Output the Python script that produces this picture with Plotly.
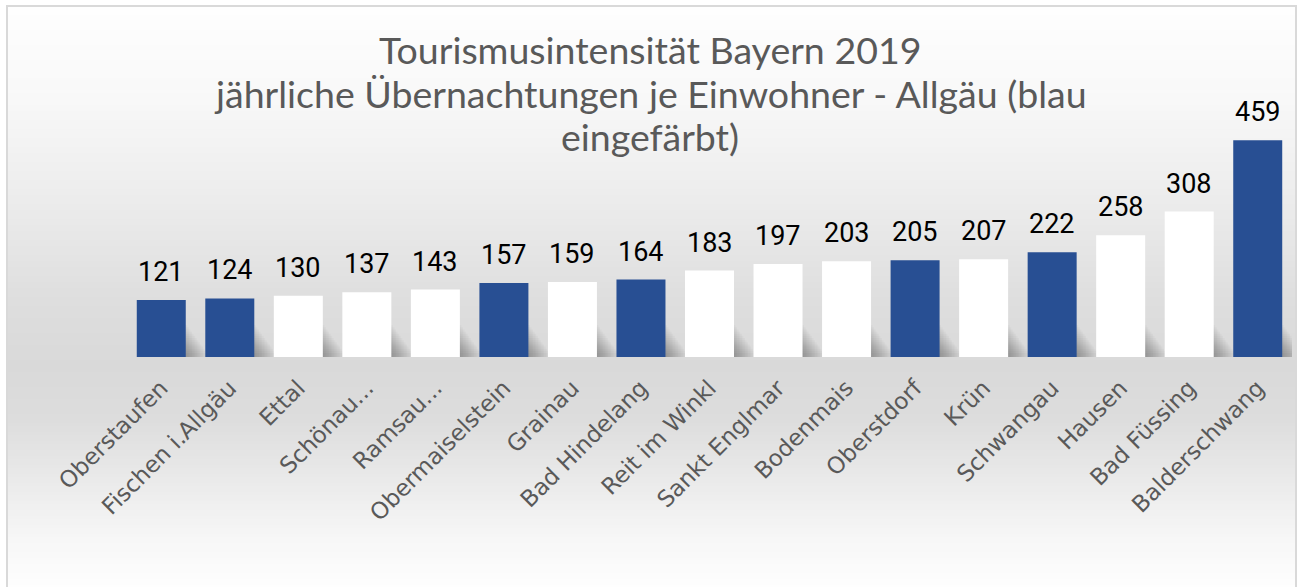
import plotly.graph_objects as go

# ---------------- data ----------------
categories = ["Oberstaufen", "Fischen i.Allgäu", "Ettal", "Schönau...", "Ramsau...",
              "Obermaiselstein", "Grainau", "Bad Hindelang", "Reit im Winkl",
              "Sankt Englmar", "Bodenmais", "Oberstdorf", "Krün", "Schwangau",
              "Hausen", "Bad Füssing", "Balderschwang"]
values = [121, 124, 130, 137, 143, 157, 159, 164, 183, 197, 203, 205, 207, 222, 258, 308, 459]
allgaeu = [True, True, False, False, False, True, False, True, False,
           False, False, True, False, True, False, False, True]

title_lines = ["Tourismusintensität Bayern 2019",
               "jährliche Übernachtungen je Einwohner - Allgäu (blau",
               "eingefärbt)"]

# ---------------- style ----------------
W, H = 1300, 587
ML, MR, MT, MB = 127, 8, 121, 230
YMAX = 500
BARGAP = 0.285
BLUE = "#284F93"
WHITE = "#FFFFFF"
TXT = "#595959"

pw = W - ML - MR
ph = H - MT - MB
cat_px = pw / len(categories)


def px_x(x):
    return (x - ML) / pw


def px_y(y):
    return (H - MB - y) / ph


colors = [BLUE if a else WHITE for a in allgaeu]

fig = go.Figure()
fig.add_trace(go.Bar(
    x=categories, y=values,
    marker=dict(color=colors, line=dict(width=0)),
    hoverinfo="x+y",
    cliponaxis=False,
))

annotations = []
# data labels
for c, v in zip(categories, values):
    annotations.append(dict(
        x=c, y=v, xref="x", yref="y", text=str(v), showarrow=False,
        yanchor="bottom", yshift=10,
        font=dict(family="Roboto", size=27, color="#000000"),
    ))

# title lines (separate annotations for exact line spacing)
title_centers = [50, 93, 136]
for line, yc in zip(title_lines, title_centers):
    annotations.append(dict(
        x=px_x(650), y=px_y(yc), xref="paper", yref="paper",
        text=line, showarrow=False, xanchor="center", yanchor="middle",
        font=dict(family="Lato", size=37.5, color=TXT),
    ))

# background gradient (vertical)
stops = [(6, 254), (100, 248), (200, 236), (300, 222), (365, 217),
         (420, 221), (480, 234), (540, 247), (590, 254)]


def gray_at(y):
    for (y0, g0), (y1, g1) in zip(stops[:-1], stops[1:]):
        if y0 <= y <= y1:
            t = (y - y0) / (y1 - y0)
            return g0 + (g1 - g0) * t
    return stops[-1][1]


shapes = []
step = 3
y = 6
while y < 590:
    g = int(round(gray_at(y + step / 2)))
    shapes.append(dict(
        type="rect", xref="paper", yref="paper", layer="below",
        x0=px_x(7), x1=px_x(1296), y0=px_y(y + step), y1=px_y(y),
        line=dict(width=0), fillcolor=f"rgb({g},{g},{g})",
    ))
    y += step

# soft bar shadows (to the right of each bar, near the base)
half = (1 - BARGAP) / 2
N_SH = 14
for i in range(len(categories)):
    for k in range(1, N_SH + 1):
        ext = 22.0 * k / N_SH
        hgt = 4 + 30.0 * (1 - k / N_SH)
        shapes.append(dict(
            type="rect", xref="x", yref="y", layer="below",
            x0=i, x1=i + half + ext / cat_px,
            y0=0, y1=hgt * YMAX / ph,
            line=dict(width=0), fillcolor="rgba(0,0,0,0.022)",
        ))

# border
shapes.append(dict(
    type="rect", xref="paper", yref="paper", layer="below",
    x0=px_x(7), x1=px_x(1296), y0=px_y(592), y1=px_y(6),
    line=dict(width=2, color="#d9d9d9"), fillcolor="rgba(0,0,0,0)",
))

fig.update_layout(
    width=W, height=H,
    margin=dict(l=ML, r=MR, t=MT, b=MB),
    paper_bgcolor="#ffffff",
    plot_bgcolor="rgba(0,0,0,0)",
    bargap=BARGAP,
    showlegend=False,
    xaxis=dict(
        range=[-0.5, len(categories) - 0.5],
        tickangle=-45,
        tickfont=dict(family="'DejaVu Sans', Verdana, sans-serif", size=23, color=TXT),
        showgrid=False, zeroline=False, showline=False, ticks="",
        ticklabelstandoff=12,
        fixedrange=True,
    ),
    yaxis=dict(
        range=[0, YMAX], visible=False, showgrid=False, zeroline=False,
        fixedrange=True,
    ),
    annotations=annotations,
    shapes=shapes,
)

fig.write_html("out.html", config={"displayModeBar": False},
               post_script="document.body.style.margin='0';")
